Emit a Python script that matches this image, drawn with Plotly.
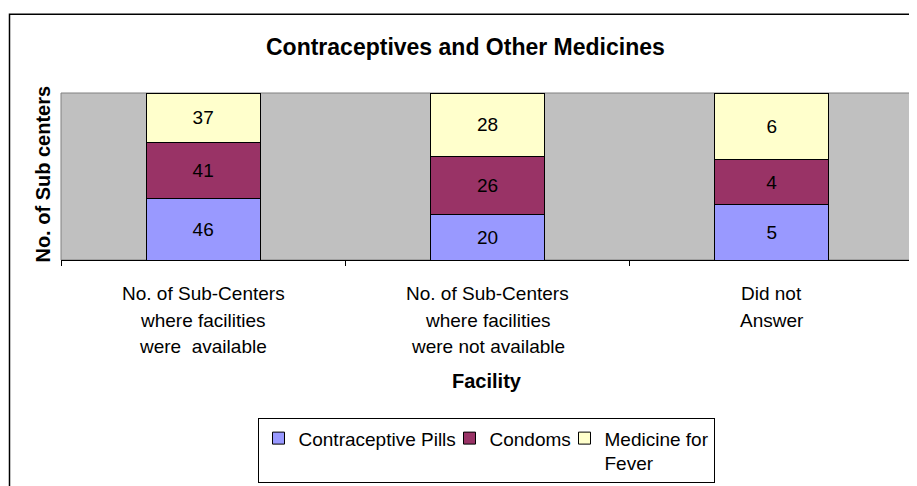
import plotly.graph_objects as go

categories = [
    "No. of Sub-Centers<br>where facilities<br>were  available",
    "No. of Sub-Centers<br>where facilities<br>were not available",
    "Did not<br>Answer",
]
pills = [46, 20, 5]
condoms = [41, 26, 4]
fever = [37, 28, 6]
series_names = ["Contraceptive Pills", "Condoms", "Medicine for<br>Fever"]
colors = ["#9999FF", "#993366", "#FFFFCC"]
legend_widths = [146, 70, 104]

W, H = 917, 486
OFF = 8  # page body margin
# plot area in screen pixels
SX0, SX1, SY0, SY1 = 61, 914, 93, 265
L = SX0 - OFF
R = W - (SX1 - OFF)
T = SY0 - OFF
B = H - (SY1 - OFF)
PW, PH = SX1 - SX0, SY1 - SY0


def px(x):
    return (x - SX0) / PW


def py(y):
    return (SY1 - y) / PH


FONT = "Liberation Sans, Arial, sans-serif"

fig = go.Figure()
for name, vals, col, lw in zip(series_names, [pills, condoms, fever], colors, legend_widths):
    fig.add_trace(go.Bar(
        x=categories, y=vals, name=name,
        marker=dict(color=col, line=dict(color="#000000", width=1)),
        text=[str(v) for v in vals], textposition="inside",
        insidetextanchor="middle",
        textfont=dict(color="#000000", size=19, family=FONT),
        width=0.4, legendwidth=lw,
    ))

annotations = [
    dict(text="<b>Contraceptives and Other Medicines</b>", xref="paper", yref="paper",
         x=px(465), y=py(46), xanchor="center", yanchor="middle", showarrow=False,
         font=dict(size=23, family=FONT)),
    dict(text="<b>No. of Sub centers</b>", xref="paper", yref="paper",
         x=px(43), y=py(177), xanchor="center", yanchor="middle", showarrow=False,
         textangle=-90, font=dict(size=20, family=FONT)),
    dict(text="<b>Facility</b>", xref="paper", yref="paper",
         x=px(487), y=py(390), xanchor="center", yanchor="middle", showarrow=False,
         font=dict(size=20, family=FONT)),
]
# category labels, one annotation per line for Excel-like line spacing
for cat in categories:
    for j, line in enumerate(cat.split("<br>")):
        annotations.append(dict(
            text=line.replace("  ", "&nbsp; "), xref="x", yref="paper", x=cat,
            y=py(300 + j * 27), xanchor="center", yanchor="middle",
            showarrow=False, font=dict(size=19, family=FONT),
        ))

fig.update_layout(
    width=W, height=H,
    margin=dict(l=L, r=R, t=T, b=B, pad=0),
    barmode="stack", barnorm="percent",
    paper_bgcolor="#FFFFFF", plot_bgcolor="#C0C0C0",
    font=dict(family=FONT, color="#000000", size=19),
    showlegend=True,
    legend=dict(
        orientation="h", x=px(486), xanchor="center", y=py(428), yanchor="top",
        bordercolor="#000000", borderwidth=1, bgcolor="#FFFFFF",
        font=dict(size=19, family=FONT), valign="top",
        traceorder="normal", tracegroupgap=0,
    ),
    xaxis=dict(
        showline=True, linecolor="#000000", linewidth=1,
        ticks="outside", ticklen=5, tickcolor="#000000", tickson="boundaries",
        showticklabels=False,
        showgrid=False, zeroline=False,
    ),
    yaxis=dict(
        range=[0, 100], showticklabels=False, showgrid=False, zeroline=False,
        showline=False, ticks="",
    ),
    annotations=annotations,
    shapes=[
        dict(type="rect", xref="paper", yref="paper", x0=0, x1=1, y0=0, y1=1,
             line=dict(color="#808080", width=1), layer="below"),
        dict(type="rect", xref="paper", yref="paper", x0=px(9.5), x1=px(940),
             y0=py(520), y1=py(12), line=dict(color="#000000", width=1.5),
             layer="below"),
    ],
)

fig.write_html("out.html")
